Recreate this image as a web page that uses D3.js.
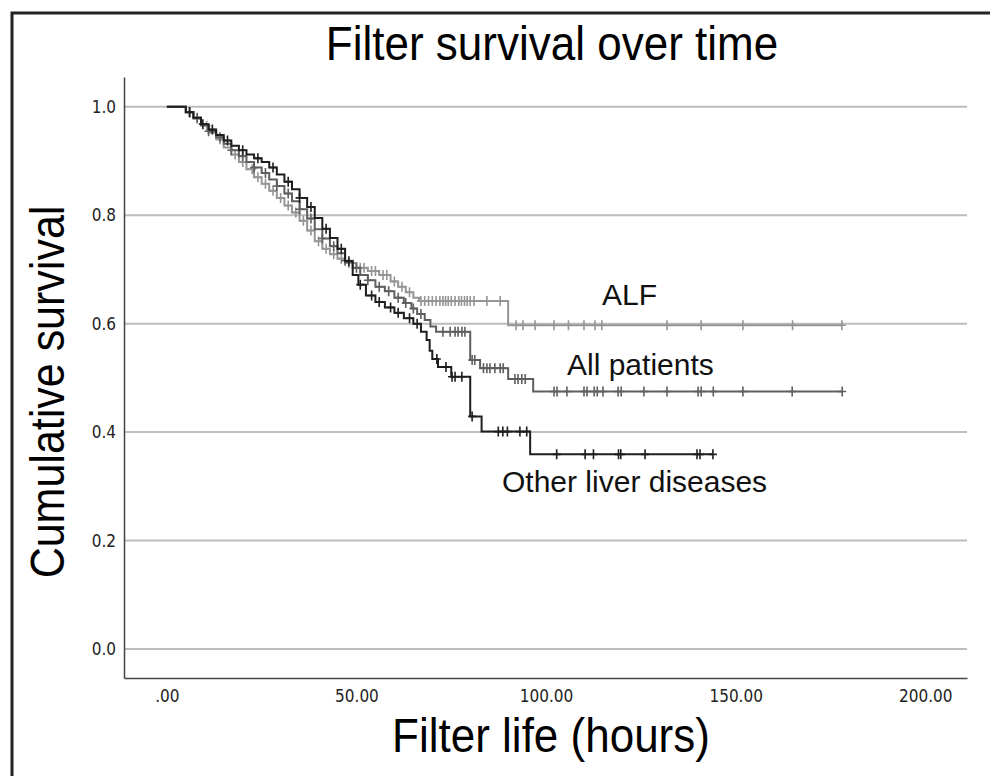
<!DOCTYPE html>
<html>
<head>
<meta charset="utf-8">
<script src="https://cdn.jsdelivr.net/npm/d3@7"></script>
<style>
  html, body { margin: 0; padding: 0; background: #fff; }
  svg { display: block; }
</style>
</head>
<body>
<svg id="chart" width="990" height="776"></svg>
<script>
// ---------------- DATA ----------------
const chartTitle = "Filter survival over time";
const xLabel = "Filter life (hours)";
const yLabel = "Cumulative survival";
const xTickValues = [0, 50, 100, 150, 200];
const xTickLabels = [".00", "50.00", "100.00", "150.00", "200.00"];
const yTickValues = [0, 0.2, 0.4, 0.6, 0.8, 1.0];
const yTickLabels = ["0.0", "0.2", "0.4", "0.6", "0.8", "1.0"];
const seriesNames = ["ALF", "All patients", "Other liver diseases"];

// Kaplan-Meier steps: [time (h), survival after event]
const alfSteps = [[5,0.99],[7,0.978],[9,0.965],[11,0.952],[13,0.94],[15,0.925],[17,0.912],[19,0.898],[21,0.885],[23,0.87],[25,0.858],[27,0.845],[29,0.832],[31,0.818],[33,0.805],[35,0.79],[37,0.772],[39,0.752],[41,0.738],[43,0.728],[45,0.72],[47,0.712],[50,0.703],[53,0.697],[56,0.69],[59,0.678],[61,0.668],[63,0.658],[65,0.648],[66.5,0.642],[90,0.597]];
const alfCensor = [6,8,10.5,14,18,20,22.5,24,26,28,30,32,34,36,38,40,42,44,46,48,51,52,54,55,57,58,60,62,64,67,68,69,70,71,72,72.8,73.5,74.2,75,76,77,77.7,78.5,79.2,80,81,84.4,87.9,92.1,93.9,97.1,102.1,105.9,110.0,112.9,114.7,131.9,140.9,151.9,165.0,178.0];

const allSteps = [[5,0.99],[7,0.98],[9,0.967],[11,0.955],[13,0.944],[15,0.932],[17,0.92],[19,0.909],[21,0.898],[23,0.888],[25,0.878],[27,0.866],[29,0.854],[31,0.84],[33,0.826],[35,0.811],[37,0.794],[39,0.774],[41,0.757],[43,0.743],[45,0.73],[47,0.716],[49,0.703],[51,0.69],[53,0.68],[55,0.668],[57.5,0.66],[60,0.648],[62.5,0.638],[64.5,0.628],[66,0.618],[68,0.607],[69.5,0.595],[71,0.585],[80,0.533],[82.6,0.518],[90,0.498],[96.6,0.475]];
const allCensor = [6,8,11,14,17,20,23,26,29,32,35,38,41,44,47,50,53,56,58.5,61,63,65,67,72.8,74.7,76,76.8,77.8,78.6,80.5,81.2,83.5,84.4,85.2,86.5,87.9,88.7,91.8,92.6,93.6,94.5,102.1,102.9,105.5,110.0,110.8,112.7,113.5,115.0,119.0,119.8,125.8,131.9,140.1,140.9,144.1,151.9,164.9,178.1];

const otherSteps = [[5,0.99],[7,0.98],[9,0.968],[11,0.958],[13,0.948],[15,0.938],[17,0.928],[19,0.92],[21,0.912],[23,0.905],[25,0.898],[27,0.888],[29,0.875],[31,0.862],[33,0.848],[35,0.832],[37,0.815],[39,0.795],[41,0.775],[43,0.758],[45,0.738],[47,0.715],[49,0.69],[50.5,0.672],[52.5,0.652],[55,0.64],[57.5,0.63],[60,0.62],[62.5,0.61],[65,0.6],[67,0.585],[68.5,0.57],[69.3,0.55],[70,0.535],[71.5,0.52],[75,0.502],[80,0.429],[83,0.401],[95.8,0.359]];
const otherCensor = [6,9.5,12,16,20,24,28,32,35,38,42,46,48,51,54,56,59,61,64,66,71.2,73.6,75.2,76,77.8,80.5,87.4,88.6,89.8,93.1,94.9,102.8,110.3,112.5,119.1,119.7,126.1,139.8,140.6,144.0];

// ---------------- CHART ----------------
const svg = d3.select("#chart");
const W = 990, H = 776;

svg.append("rect").attr("x", 0).attr("y", 0).attr("width", W).attr("height", H).attr("fill", "#fff");
// outer frame (only top and left visible)
svg.append("rect").attr("x", 12).attr("y", 13).attr("width", 1000).attr("height", 800)
  .attr("fill", "none").attr("stroke", "#222").attr("stroke-width", 3);

const x = d3.scaleLinear().domain([-11.3, 211]).range([124, 967]);
const y = d3.scaleLinear().domain([-0.0535, 1.055]).range([678, 77]);

// gridlines
svg.append("g").selectAll("line").data(yTickValues).join("line")
  .attr("x1", 125).attr("x2", 967)
  .attr("y1", d => y(d)).attr("y2", d => y(d))
  .attr("stroke", "#bdbdbd").attr("stroke-width", 2);

// axes
const tickFont = "'DejaVu Sans Condensed','DejaVu Sans',sans-serif";
const yAxis = d3.axisLeft(y).tickValues(yTickValues).tickSize(0).tickPadding(8)
  .tickFormat((d, i) => yTickLabels[i]);
const gy = svg.append("g").attr("transform", "translate(124,0)").call(yAxis);
gy.select(".domain").attr("stroke", "#444").attr("stroke-width", 1.5);
gy.selectAll("text").attr("font-family", tickFont)
  .attr("font-stretch", "condensed").attr("font-size", 17).attr("fill", "#222");

const xAxis = d3.axisBottom(x).tickValues(xTickValues).tickSize(0).tickPadding(12)
  .tickFormat((d, i) => xTickLabels[i]);
const gx = svg.append("g").attr("transform", "translate(0,678)").call(xAxis);
gx.select(".domain").attr("stroke", "#444").attr("stroke-width", 1.5);
gx.selectAll("text").attr("font-family", tickFont)
  .attr("font-stretch", "condensed").attr("font-size", 17).attr("fill", "#222");

// KM curves
function survAt(steps, t) {
  let s = 1;
  for (const [tt, ss] of steps) { if (tt <= t) s = ss; else break; }
  return s;
}
const series = [
  { name: seriesNames[0], steps: alfSteps, censor: alfCensor, color: "#959595" },
  { name: seriesNames[1], steps: allSteps, censor: allCensor, color: "#5f5f5f" },
  { name: seriesNames[2], steps: otherSteps, censor: otherCensor, color: "#1e1e1e" }
];
const line = d3.line().x(d => x(d[0])).y(d => y(d[1])).curve(d3.curveStepAfter);

series.forEach(s => {
  const tEnd = d3.max(s.censor);
  const pts = [[0, 1], ...s.steps, [tEnd, s.steps[s.steps.length - 1][1]]];
  const g = svg.append("g");
  g.append("path").attr("d", line(pts)).attr("fill", "none")
    .attr("stroke", s.color).attr("stroke-width", 2);
  g.selectAll("path.c").data(s.censor).join("path").attr("class", "c")
    .attr("d", t => {
      const cx = x(t), cy = y(survAt(s.steps, t));
      return `M${cx - 4},${cy}H${cx + 4}M${cx},${cy - 5}V${cy + 5}`;
    })
    .attr("stroke", s.color).attr("stroke-width", 1.6).attr("fill", "none");
});

// labels (slightly tall glyphs, like the reference)
const sans = "'Liberation Sans', Arial, Helvetica, sans-serif";
svg.append("text").attr("transform", "translate(552,60) scale(1,1.1)").attr("text-anchor", "middle")
  .attr("font-family", sans).attr("font-size", 44).attr("fill", "#000").text(chartTitle);
svg.append("text").attr("transform", "translate(551,752) scale(1,1.1)").attr("text-anchor", "middle")
  .attr("font-family", sans).attr("font-size", 44).attr("fill", "#000").text(xLabel);
svg.append("text").attr("transform", "translate(64,392) rotate(-90) scale(1,1.1)").attr("text-anchor", "middle")
  .attr("font-family", sans).attr("font-size", 43).attr("fill", "#000").text(yLabel);

const annX = [602, 567, 502];
const annY = [305, 375, 492];
svg.append("g").selectAll("text").data(seriesNames).join("text")
  .attr("x", (d, i) => annX[i]).attr("y", (d, i) => annY[i])
  .attr("font-family", sans).attr("font-size", 30).attr("fill", "#111").text(d => d);
</script>
</body>
</html>
